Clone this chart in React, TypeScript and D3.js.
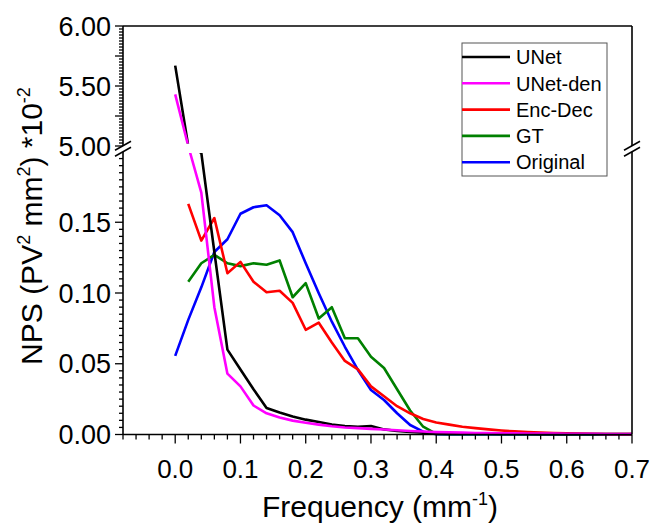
import React from 'react';
import * as d3 from 'd3';

// Frequency grid (mm^-1)
const freq = [0.00, 0.02, 0.04, 0.06, 0.08, 0.10, 0.12, 0.14, 0.16, 0.18, 0.20, 0.22, 0.24, 0.26, 0.28, 0.30, 0.32, 0.34, 0.36, 0.38, 0.40, 0.42, 0.44, 0.46, 0.48, 0.50, 0.52, 0.54, 0.56, 0.58, 0.60, 0.62, 0.64, 0.66, 0.68, 0.70];

// NPS values (x10^-2)
const unet = [5.67, 5.00, 0.199, 0.129, 0.060, 0.046, 0.032, 0.0187, 0.0155, 0.0128, 0.0105, 0.0088, 0.0070, 0.0060, 0.0055, 0.0060, 0.0036, 0.0025, 0.0018, 0.0013, 0.0009, 0.0007, 0.0006, 0.0005, 0.0005, 0.0004, 0.0004, 0.0004, 0.0003, 0.0003, 0.0003, 0.0003, 0.0003, 0.0003, 0.0003, 0.0003];
const unetDen = [5.43, 5.00, 0.171, 0.090, 0.043, 0.034, 0.0205, 0.015, 0.012, 0.0098, 0.0083, 0.0070, 0.0058, 0.0050, 0.0045, 0.0040, 0.0035, 0.0030, 0.0025, 0.0021, 0.0017, 0.0015, 0.0013, 0.0011, 0.0010, 0.0009, 0.0008, 0.0007, 0.0006, 0.0006, 0.0005, 0.0005, 0.0005, 0.0004, 0.0004, 0.0004];
const encDec = [null, 0.163, 0.137, 0.153, 0.114, 0.122, 0.108, 0.1005, 0.1016, 0.093, 0.074, 0.079, 0.065, 0.052, 0.046, 0.034, 0.027, 0.020, 0.015, 0.011, 0.0085, 0.0070, 0.0055, 0.0045, 0.0036, 0.0028, 0.0022, 0.0017, 0.0013, 0.0010, 0.0008, 0.0006, 0.0005, 0.0004, 0.0003, 0.0003];
const gt = [null, 0.108, 0.121, 0.127, 0.121, 0.119, 0.121, 0.120, 0.123, 0.097, 0.107, 0.082, 0.090, 0.068, 0.068, 0.055, 0.047, 0.032, 0.017, 0.0055, 0.0004, 0.0002, 0.0002, 0.0002, 0.0002, 0.0002, 0.0002, 0.0002, 0.0002, 0.0002, 0.0002, 0.0002, 0.0002, 0.0002, 0.0002, 0.0002];
const original = [0.0556, 0.081, 0.104, 0.129, 0.138, 0.156, 0.1606, 0.162, 0.155, 0.143, 0.121, 0.0998, 0.0797, 0.062, 0.0456, 0.0315, 0.0244, 0.015, 0.0067, 0.0020, 0.0002, 0.0001, 0.0001, 0.0001, 0.0001, 0.0001, 0.0001, 0.0001, 0.0001, 0.0001, 0.0001, 0.0001, 0.0001, 0.0001, 0.0001, 0.0001];

const seriesNames = ['UNet', 'UNet-den', 'Enc-Dec', 'GT', 'Original'];
const seriesColors = ['#000000', '#ff00ff', '#ff0000', '#008000', '#0000ff'];
const seriesValues = [unet, unetDen, encDec, gt, original];
const drawOrder = [4, 3, 2, 0, 1];

const xTickLabels = ['0.0', '0.1', '0.2', '0.3', '0.4', '0.5', '0.6', '0.7'];
const yLowerLabels = ['0.00', '0.05', '0.10', '0.15'];
const yUpperLabels = ['5.00', '5.50', '6.00'];

const FONT = 'Liberation Sans, Arial, Helvetica, sans-serif';

export default function App() {
  const W = 654, H = 527;
  const L = 123, R = 632, T = 26, B = 434.5;
  const yLoTop = 151.5, yUpBot = 146;

  const x = d3.scaleLinear().domain([-0.08, 0.7]).range([L, R]);
  const y = d3.scaleLinear().domain([0, 0.2, 5, 6]).range([B, yLoTop, yUpBot, T]);

  const line = d3.line<number | null>()
    .defined((d) => d != null)
    .x((_, i) => x(freq[i]))
    .y((d) => y(d as number));

  const xMinor = d3.range(-4, 36).map((i) => i * 0.02);
  const xMajor = xTickLabels.map((s) => +s);
  const yLoMinor = d3.range(0, 40).map((i) => i * 0.005);
  const yUpMinor = d3.range(0, 41).map((i) => 5 + i * 0.025);

  const isMult = (v: number, step: number) => Math.abs(v / step - Math.round(v / step)) < 1e-6;

  const breakMark = (cx: number) => {
    const yc = (yLoTop + yUpBot) / 2;
    const g = 6, w = 8, h = 4.5;
    const a1 = [cx - w, yc - g / 2 + h], a2 = [cx + w, yc - g / 2 - h];
    const b1 = [cx - w, yc + g / 2 + h], b2 = [cx + w, yc + g / 2 - h];
    return (
      <g key={'brk' + cx}>
        <polygon points={`${a1} ${a2} ${b2} ${b1}`} fill="#fff" stroke="none" />
        <line x1={a1[0]} y1={a1[1]} x2={a2[0]} y2={a2[1]} stroke="#000" strokeWidth={1.5} />
        <line x1={b1[0]} y1={b1[1]} x2={b2[0]} y2={b2[1]} stroke="#000" strokeWidth={1.5} />
      </g>
    );
  };

  const legendX = 462, legendY = 43, legendW = 145, legendH = 133;
  const rowY = (i: number) => 57 + i * 26.3;

  return (
    <svg width={W} height={H} style={{ position: 'absolute', left: 0, top: 0, background: '#fff' }} fontFamily={FONT}>
      <rect x={0} y={0} width={W} height={H} fill="#fff" />
      <defs>
        <clipPath id="plotClip">
          <rect x={L} y={T} width={R - L} height={yUpBot - 2.5 - T} />
          <rect x={L} y={yLoTop + 1.5} width={R - L + 2} height={B + 3 - yLoTop - 1.5} />
        </clipPath>
      </defs>

      {/* series */}
      <g clipPath="url(#plotClip)">
        {drawOrder.map((k) => (
          <path key={seriesNames[k]} d={line(seriesValues[k]) || ''} fill="none" stroke={seriesColors[k]} strokeWidth={2.6} strokeLinejoin="round" />
        ))}
      </g>

      {/* frame */}
      <g stroke="#000" strokeWidth={1.6} fill="none">
        <line x1={L} y1={T} x2={R} y2={T} />
        <line x1={L} y1={B} x2={R} y2={B} />
        <line x1={L} y1={T} x2={L} y2={B} />
        <line x1={R} y1={T} x2={R} y2={B} />
      </g>

      {/* x ticks */}
      <g stroke="#000" strokeWidth={1.3}>
        {xMinor.map((v, i) => {
          const major = isMult(v, 0.1) && v >= -1e-9;
          return <line key={'xt' + i} x1={x(v)} x2={x(v)} y1={B} y2={B + (major ? 9 : 5)} />;
        })}
      </g>
      {xMajor.map((v, i) => (
        <text key={'xl' + i} x={x(v)} y={478} fontSize={26} textAnchor="middle" fill="#000">{xTickLabels[i]}</text>
      ))}

      {/* y ticks */}
      <g stroke="#000" strokeWidth={1.3}>
        {yLoMinor.map((v, i) => {
          const major = isMult(v, 0.05);
          return <line key={'ylt' + i} x1={L} x2={L - (major ? 8 : 4)} y1={y(v)} y2={y(v)} />;
        })}
        {yUpMinor.map((v, i) => {
          const major = isMult(v, 0.25);
          return <line key={'yut' + i} x1={L} x2={L - (major ? 8 : 4)} y1={y(v)} y2={y(v)} />;
        })}
      </g>
      {yLowerLabels.map((s) => (
        <text key={'yll' + s} x={111} y={y(+s)} dy="0.36em" fontSize={27} textAnchor="end" fill="#000">{s}</text>
      ))}
      {yUpperLabels.map((s) => (
        <text key={'yul' + s} x={111} y={y(+s)} dy="0.36em" fontSize={27} textAnchor="end" fill="#000">{s}</text>
      ))}

      {breakMark(L)}
      {breakMark(R)}

      {/* axis titles */}
      <text x={380} y={517} fontSize={30} textAnchor="middle" fill="#000">
        Frequency (mm<tspan fontSize={18} dy={-12}>-1</tspan><tspan dy={12}>)</tspan>
      </text>
      <text transform={`translate(42,226) rotate(-90)`} fontSize={30} textAnchor="middle" fill="#000">
        NPS (PV<tspan fontSize={18} dy={-12}>2</tspan><tspan dy={12}> mm</tspan><tspan fontSize={18} dy={-12}>2</tspan><tspan dy={12}>) *10</tspan><tspan fontSize={18} dy={-12}>-2</tspan>
      </text>

      {/* legend */}
      <rect x={legendX} y={legendY} width={legendW} height={legendH} fill="#fff" stroke="#555" strokeWidth={1} />
      {seriesNames.map((n, i) => (
        <g key={'lg' + n}>
          <line x1={legendX} x2={legendX + 48} y1={rowY(i)} y2={rowY(i)} stroke={seriesColors[i]} strokeWidth={2.6} />
          <text x={legendX + 54} y={rowY(i)} dy="0.36em" fontSize={20} fill="#000">{n}</text>
        </g>
      ))}
    </svg>
  );
}
